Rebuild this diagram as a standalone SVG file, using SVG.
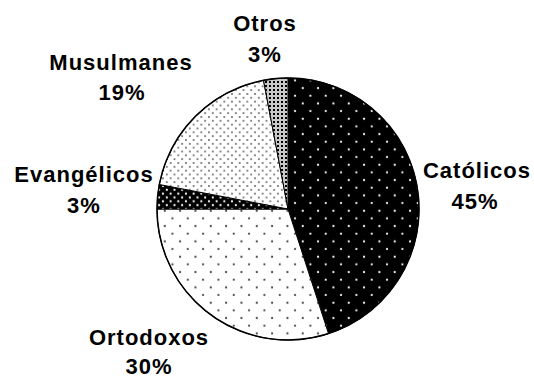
<svg xmlns="http://www.w3.org/2000/svg" width="534" height="380" viewBox="0 0 534 380">
<style>
.lbl{font-family:"Liberation Sans",Arial,sans-serif;font-weight:bold;font-size:22px;fill:#000;text-anchor:middle;letter-spacing:1px}
.slice{stroke:#000;stroke-width:1;stroke-linejoin:round}
</style>
<defs>
<pattern id="pCat" patternUnits="userSpaceOnUse" width="15.33" height="15.33">
<rect width="15.33" height="15.33" fill="#000"/>
<circle cx="3.8" cy="3.8" r="1.1" fill="#fff"/>
<circle cx="11.5" cy="11.5" r="1.1" fill="#fff"/>
</pattern>
<pattern id="pOrt" patternUnits="userSpaceOnUse" width="15.33" height="15.33">
<rect width="15.33" height="15.33" fill="#fff"/>
<circle cx="3.8" cy="3.8" r="1.1" fill="#444"/>
<circle cx="11.5" cy="11.5" r="1.1" fill="#444"/>
</pattern>
<pattern id="pMus" patternUnits="userSpaceOnUse" width="7.67" height="7.67">
<rect width="7.67" height="7.67" fill="#fff"/>
<circle cx="1.9" cy="1.9" r="1" fill="#666"/>
<circle cx="5.75" cy="5.75" r="1" fill="#666"/>
</pattern>
<pattern id="pEva" patternUnits="userSpaceOnUse" width="7.67" height="7.67">
<rect width="7.67" height="7.67" fill="#000"/>
<circle cx="1.9" cy="1.9" r="1.1" fill="#fff"/>
<circle cx="5.75" cy="5.75" r="1.1" fill="#fff"/>
</pattern>
<pattern id="pOtr" patternUnits="userSpaceOnUse" width="4" height="4">
<rect width="4" height="4" fill="#c8c8c8"/>
<rect x="1" y="1" width="2" height="2" fill="#000"/>
</pattern>
</defs>
<g id="pie">
<g id="catolicos"><path class="slice" fill="url(#pCat)" d="M288,209 L288,78 A131,131 0 0 1 328.5,333.6 Z"/></g>
<g id="ortodoxos"><path class="slice" fill="url(#pOrt)" d="M288,209 L328.5,333.6 A131,131 0 0 1 157,209 Z"/></g>
<g id="evangelicos"><path class="slice" fill="url(#pEva)" d="M288,209 L157,209 A131,131 0 0 1 159.3,184.5 Z"/></g>
<g id="musulmanes"><path class="slice" fill="url(#pMus)" d="M288,209 L159.3,184.5 A131,131 0 0 1 263.5,80.3 Z"/></g>
<g id="otros"><path class="slice" fill="url(#pOtr)" d="M288,209 L263.5,80.3 A131,131 0 0 1 288,78 Z"/></g>
<circle cx="288" cy="209" r="131" fill="none" stroke="#000" stroke-width="1.5"/>
</g>
<g id="labels">
<g id="lbl-otros"><text class="lbl" x="265" y="31">Otros</text><text class="lbl" x="265" y="62">3%</text></g>
<g id="lbl-musulmanes"><text class="lbl" x="121" y="70">Musulmanes</text><text class="lbl" x="122" y="100">19%</text></g>
<g id="lbl-evangelicos"><text class="lbl" x="84" y="182">Evangélicos</text><text class="lbl" x="84" y="213">3%</text></g>
<g id="lbl-catolicos"><text class="lbl" x="477" y="178">Católicos</text><text class="lbl" x="475" y="209">45%</text></g>
<g id="lbl-ortodoxos"><text class="lbl" x="149" y="345">Ortodoxos</text><text class="lbl" x="149" y="374">30%</text></g>
</g>
</svg>
